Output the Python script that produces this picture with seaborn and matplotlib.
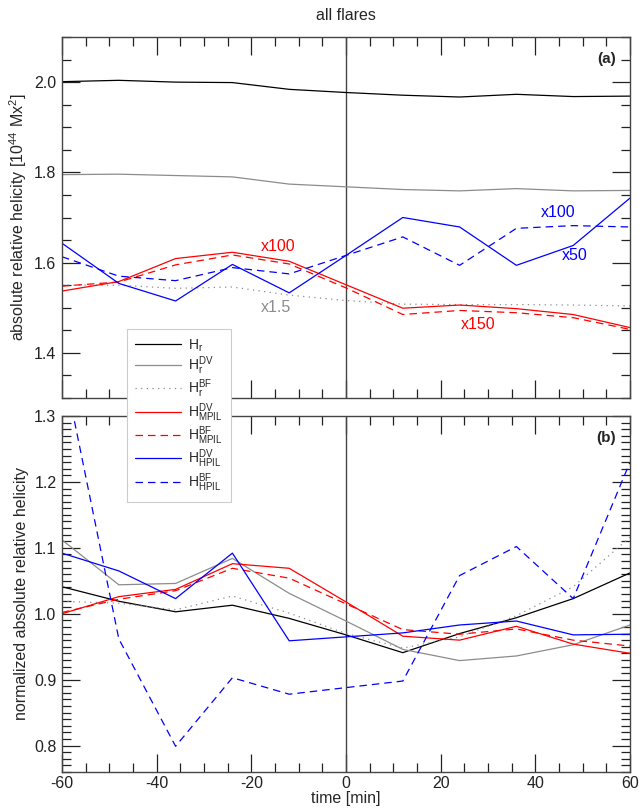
import numpy as np
import pandas as pd
import matplotlib
matplotlib.use("Agg")
import matplotlib.pyplot as plt
import seaborn as sns
from matplotlib.ticker import MultipleLocator

# time relative to flare onset [min]
time_min = [-60, -48, -36, -24, -12, 0, 12, 24, 36, 48, 60]

# (a) absolute relative helicity [1e44 Mx^2] (some curves scaled, see labels)
abs_hr = [2.001, 2.004, 2.000, 1.999, 1.984, 1.977, 1.971, 1.967, 1.973, 1.968, 1.969]
abs_hr_dv = [1.795, 1.796, 1.793, 1.790, 1.774, 1.768, 1.762, 1.759, 1.764, 1.759, 1.760]
abs_hr_bf = [1.550, 1.550, 1.543, 1.546, 1.528, 1.516, 1.508, 1.507, 1.507, 1.506, 1.504]
abs_mpil_dv = [1.537, 1.558, 1.609, 1.623, 1.603, 1.551, 1.499, 1.506, 1.498, 1.485, 1.456]
abs_mpil_bf = [1.548, 1.557, 1.595, 1.617, 1.597, 1.544, 1.485, 1.494, 1.489, 1.478, 1.452]
abs_hpil_dv = [1.643, 1.554, 1.515, 1.596, 1.533, 1.616, 1.700, 1.679, 1.594, 1.638, 1.743]
abs_hpil_bf = [1.613, 1.570, 1.560, 1.589, 1.575, 1.616, 1.657, 1.594, 1.676, 1.682, 1.679]

# (b) normalized absolute relative helicity
norm_hr = [1.041, 1.019, 1.003, 1.013, 0.993, 0.968, 0.941, 0.970, 0.994, 1.023, 1.062]
norm_hr_dv = [1.112, 1.044, 1.046, 1.084, 1.031, 0.989, 0.946, 0.929, 0.936, 0.953, 0.983]
norm_hr_bf = [1.019, 1.016, 1.006, 1.027, 1.001, 0.970, 0.948, 0.965, 0.997, 1.041, 1.116]
norm_mpil_dv = [1.000, 1.026, 1.037, 1.076, 1.069, 1.018, 0.966, 0.960, 0.981, 0.954, 0.940]
norm_mpil_bf = [1.002, 1.022, 1.035, 1.069, 1.054, 1.015, 0.976, 0.969, 0.977, 0.960, 0.951]
norm_hpil_dv = [1.092, 1.065, 1.023, 1.092, 0.959, 0.965, 0.971, 0.983, 0.989, 0.968, 0.969]
norm_hpil_bf = [1.385, 0.962, 0.799, 0.903, 0.878, 0.888, 0.898, 1.058, 1.102, 1.023, 1.230]

labels = [r"$\mathregular{H_r}$", r"$\mathregular{H_r^{DV}}$", r"$\mathregular{H_r^{BF}}$",
          r"$\mathregular{H_{MPIL}^{DV}}$", r"$\mathregular{H_{MPIL}^{BF}}$",
          r"$\mathregular{H_{HPIL}^{DV}}$", r"$\mathregular{H_{HPIL}^{BF}}$"]
colors = ["black", "#8c8c8c", "#8c8c8c", "#ff0000", "#ff0000", "#0000ff", "#0000ff"]
styles = ["-", "-", (0, (1, 3.5)), "-", (0, (6, 4)), "-", (0, (6, 4))]

sns.set_style("ticks")
plt.rcParams["font.family"] = ["Liberation Sans", "DejaVu Sans"]
plt.rcParams["mathtext.fontset"] = "custom"
plt.rcParams["mathtext.rm"] = "Liberation Sans"
plt.rcParams["mathtext.it"] = "Liberation Sans"
plt.rcParams["axes.edgecolor"] = "#444444"
plt.rcParams["axes.linewidth"] = 1.0
plt.rcParams["xtick.color"] = "#222222"
plt.rcParams["ytick.color"] = "#222222"

fig = plt.figure(figsize=(6.39, 8.09), dpi=100)
ax_a = fig.add_axes([62 / 639, 1 - 398 / 809, 568 / 639, 361 / 809])
ax_b = fig.add_axes([62 / 639, 1 - 772 / 809, 568 / 639, 356 / 809])

panel_a = [abs_hr, abs_hr_dv, abs_hr_bf, abs_mpil_dv, abs_mpil_bf, abs_hpil_dv, abs_hpil_bf]
panel_b = [norm_hr, norm_hr_dv, norm_hr_bf, norm_mpil_dv, norm_mpil_bf, norm_hpil_dv, norm_hpil_bf]

for ax, series in ((ax_a, panel_a), (ax_b, panel_b)):
    for vals, lab, col, ls in zip(series, labels, colors, styles):
        df = pd.DataFrame({"time": time_min, "H": vals})
        sns.lineplot(data=df, x="time", y="H", ax=ax, color=col, linestyle=ls,
                     linewidth=0.9, label=lab, legend=False)
    ax.axvline(0, color="#444444", lw=1.0, zorder=1)
    ax.set_xlim(-60, 60)
    ax.xaxis.set_major_locator(MultipleLocator(20))
    ax.xaxis.set_minor_locator(MultipleLocator(5))
    ax.tick_params(which="both", direction="in", top=True, right=True, labelsize=11.5)
    ax.tick_params(which="major", length=13, width=0.9, pad=4)
    ax.tick_params(which="minor", length=6.5, width=0.9)

ax_a.set_ylim(1.3, 2.1)
ax_a.yaxis.set_major_locator(MultipleLocator(0.2))
ax_a.yaxis.set_minor_locator(MultipleLocator(0.05))
ax_a.set_xticklabels([])
ax_a.set_xlabel("")
ax_a.set_ylabel(r"absolute relative helicity [10$^{44}$ Mx$^{2}$]", fontsize=11.5, labelpad=4)
ax_a.set_title("all flares", fontsize=11.5, pad=12)

ax_b.set_ylim(0.76, 1.3)
ax_b.yaxis.set_major_locator(MultipleLocator(0.1))
ax_b.yaxis.set_minor_locator(MultipleLocator(0.01))
ax_b.set_xlabel("time [min]", fontsize=11.5, labelpad=0)
ax_b.set_ylabel("normalized absolute relative helicity", fontsize=11.5, labelpad=4)
ax_b.set_xticks([-60, -40, -20, 0, 20, 40, 60])
ax_b.set_xticklabels(["-60", "-40", "-20", "0", "20", "40", "60"])
ax_b.tick_params(axis="x", which="major", pad=3)

ax_a.text(0.975, 0.938, "(a)", transform=ax_a.transAxes, ha="right", va="center",
          fontsize=11, fontweight="bold")
ax_b.text(0.975, 0.938, "(b)", transform=ax_b.transAxes, ha="right", va="center",
          fontsize=11, fontweight="bold")

# scaling factors of the individual curves
ax_a.text(-14.4, 1.635, "x100", color="#ff0000", ha="center", va="center", fontsize=11.5)
ax_a.text(-14.8, 1.501, "x1.5", color="#8c8c8c", ha="center", va="center", fontsize=11.5)
ax_a.text(27.9, 1.463, "x150", color="#ff0000", ha="center", va="center", fontsize=11.5)
ax_a.text(44.8, 1.711, "x100", color="#0000ff", ha="center", va="center", fontsize=11.5)
ax_a.text(48.3, 1.615, "x50", color="#0000ff", ha="center", va="center", fontsize=11.5)

handles, labs = ax_a.get_legend_handles_labels()
leg = fig.legend(handles, labs, loc="upper left", bbox_to_anchor=(127 / 639, 1 - 329 / 809),
                 frameon=True, fancybox=False, framealpha=1, edgecolor="#cccccc",
                 fontsize=10, handlelength=3.3, labelspacing=0.05, handletextpad=0.5,
                 borderpad=0.6, borderaxespad=0)
leg.get_frame().set_linewidth(0.8)
leg.set_zorder(10)

fig.savefig("out.png", dpi=100)
